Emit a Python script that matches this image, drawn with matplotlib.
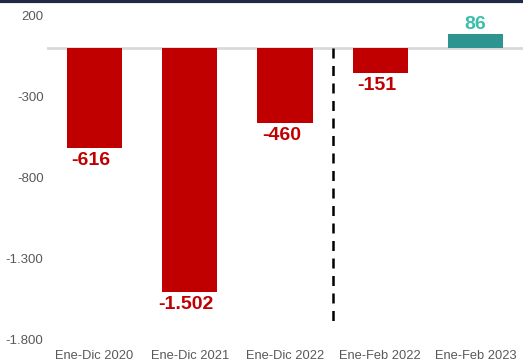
import matplotlib.pyplot as plt
import numpy as np

# datos
categorias = ["Ene-Dic 2020", "Ene-Dic 2021", "Ene-Dic 2022", "Ene-Feb 2022", "Ene-Feb 2023"]
valores = [-616, -1502, -460, -151, 86]
etiquetas = ["-616", "-1.502", "-460", "-151", "86"]
yticks = [200, -300, -800, -1300, -1800]
ytick_labels = ["200", "-300", "-800", "-1.300", "-1.800"]

plt.rcParams['font.family'] = ['Liberation Sans', 'DejaVu Sans']

fig = plt.figure(figsize=(5.23, 3.61), dpi=100)
ax = fig.add_axes([0.0899, 0.0582, 0.9101, 0.8975])

x = np.arange(len(categorias))
colores = ['#C00000' if v < 0 else '#2E9490' for v in valores]
ax.bar(x, valores, width=0.58, color=colores, zorder=2)

ax.axhline(0, color='#D9D9D9', linewidth=2, zorder=1)
ax.plot([2.5, 2.5], [0, -1690], color='black', linestyle=(0, (4, 3)), linewidth=1.8, zorder=3)

for xi, v, t in zip(x, valores, etiquetas):
    if v < 0:
        ax.annotate(t, (xi, v), xytext=(-2.5, -3), textcoords='offset points',
                    ha='center', va='top', fontsize=14, fontweight='bold', color='#C00000')
    else:
        ax.annotate(t, (xi, v), xytext=(0, 1), textcoords='offset points',
                    ha='center', va='bottom', fontsize=14, fontweight='bold', color='#3BBFAD')

ax.set_xlim(-0.5, 4.5)
ax.set_ylim(-1800, 200)
ax.set_yticks(yticks)
ax.set_yticklabels(ytick_labels)
ax.set_xticks(x)
ax.set_xticklabels(categorias)
ax.tick_params(axis='both', length=0, colors='#595959')
ax.tick_params(axis='x', pad=7, labelsize=9.3)
ax.tick_params(axis='y', pad=2.5, labelsize=9.5)
for s in ax.spines.values():
    s.set_visible(False)

# linea superior
fig.add_artist(plt.Line2D([0, 1], [0.996, 0.996], color='#1F2A44', linewidth=3, transform=fig.transFigure))

fig.savefig("out.png", dpi=100)
